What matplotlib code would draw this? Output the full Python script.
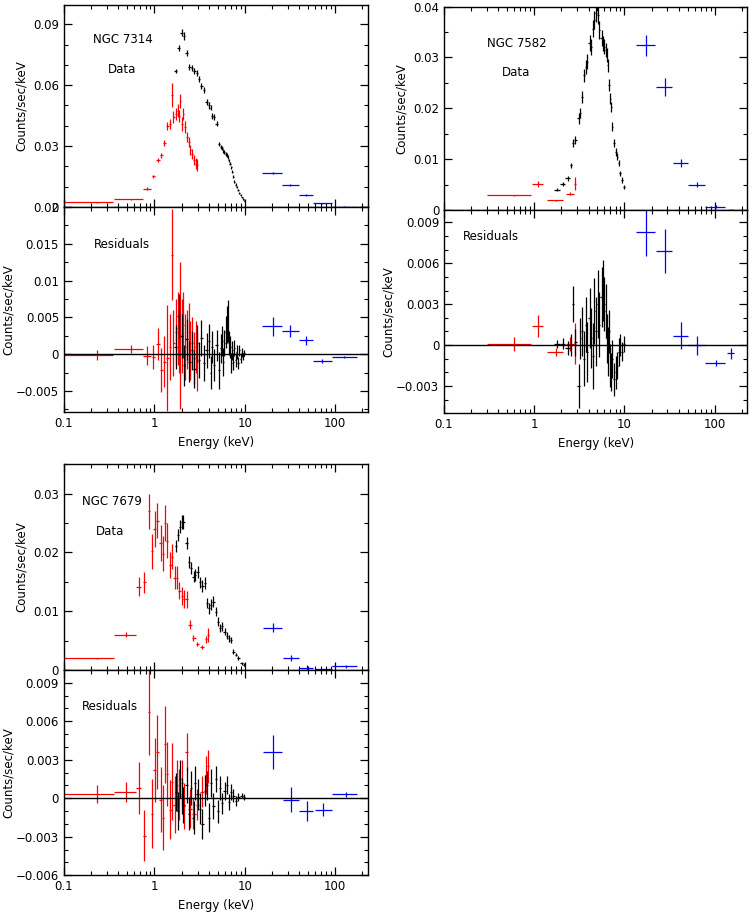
# -*- coding: utf-8 -*-

import matplotlib
matplotlib.use('Agg')
import matplotlib.pyplot as plt
from matplotlib.ticker import MultipleLocator, FuncFormatter, LogLocator, FixedLocator
import numpy as np

# ---------------- NGC 7314 ----------------
e1_pn = [1.72, 1.87, 2.01, 2.13, 2.28, 2.44, 2.59, 2.77, 2.96, 3.14,
         3.31, 3.54, 3.79, 4.02, 4.20, 4.34, 4.56, 4.89, 5.18, 5.41,
         5.60, 5.78, 5.96, 6.15, 6.30, 6.47, 6.66, 6.86, 7.07, 7.27,
         7.47, 7.67, 7.90, 8.13, 8.40, 8.70, 9.00, 9.31, 9.60, 9.85]
y1_pn = [0.0670, 0.0782, 0.0858, 0.0842, 0.0757, 0.0690, 0.0684, 0.0670, 0.0662, 0.0630,
         0.0597, 0.0576, 0.0515, 0.0500, 0.0488, 0.0450, 0.0442, 0.0410, 0.0312, 0.0295,
         0.0290, 0.0276, 0.0270, 0.0263, 0.0258, 0.0246, 0.0230, 0.0214, 0.0195, 0.0173,
         0.0150, 0.0124, 0.0110, 0.0099, 0.0085, 0.0070, 0.0058, 0.0047, 0.0038, 0.0031]
ey1_pn = [0.0012, 0.0015, 0.0018, 0.0018, 0.0015, 0.0015, 0.0015, 0.0015, 0.0015, 0.0015,
          0.0015, 0.0015, 0.0015, 0.0015, 0.0012, 0.0015, 0.0015, 0.0013, 0.0010, 0.0010,
          0.0010, 0.0010, 0.0010, 0.0010, 0.0010, 0.0010, 0.0008, 0.0008, 0.0008, 0.0008,
          0.0007, 0.0007, 0.0006, 0.0006, 0.0005, 0.0005, 0.0005, 0.0004, 0.0004, 0.0003]
r1_pn = [0.0010, 0.0052, 0.0025, -0.0015, 0.0020, -0.0010, 0.0005, -0.0020, 0.0015, -0.0008,
         0.0022, -0.0012, 0.0005, 0.0018, -0.0025, 0.0010, -0.0015, 0.0012, -0.0022, 0.0008,
         0.0018, -0.0010, 0.0015, 0.0030, 0.0040, 0.0045, 0.0015, 0.0010, -0.0012, 0.0005,
         -0.0010, 0.0008, -0.0008, 0.0003, -0.0012, 0.0005, -0.0006, 0.0002, -0.0003, 0.0001]
er1_pn = [0.0030, 0.0030, 0.0030, 0.0028, 0.0028, 0.0028, 0.0026, 0.0026, 0.0025, 0.0025,
          0.0025, 0.0024, 0.0024, 0.0023, 0.0023, 0.0022, 0.0022, 0.0021, 0.0025, 0.0020,
          0.0020, 0.0019, 0.0018, 0.0022, 0.0025, 0.0028, 0.0016, 0.0015, 0.0014, 0.0013,
          0.0012, 0.0011, 0.0010, 0.0009, 0.0008, 0.0007, 0.0006, 0.0006, 0.0005, 0.0004]

e1_soft = [0.23, 0.55, 0.83, 0.975, 1.09, 1.18, 1.28, 1.39, 1.49, 1.56,
           1.62, 1.72, 1.81, 1.88, 1.94, 2.02, 2.09, 2.20, 2.30, 2.40,
           2.50, 2.61, 2.74, 2.87, 2.99]
lo1_soft = [0.10, 0.36, 0.745, 0.93, 1.04, 1.14, 1.23, 1.34, 1.44, 1.53,
            1.59, 1.68, 1.77, 1.85, 1.91, 1.98, 2.06, 2.15, 2.25, 2.35,
            2.45, 2.56, 2.68, 2.81, 2.93]
hi1_soft = [0.35, 0.745, 0.912, 1.02, 1.14, 1.23, 1.33, 1.44, 1.53, 1.59,
            1.67, 1.77, 1.85, 1.91, 1.98, 2.06, 2.14, 2.25, 2.35, 2.45,
            2.56, 2.67, 2.80, 2.93, 3.05]
y1_soft = [0.0023, 0.0038, 0.0090, 0.0152, 0.0230, 0.0254, 0.0315, 0.0401, 0.0410, 0.0553,
           0.0442, 0.0459, 0.0475, 0.0450, 0.0524, 0.0410, 0.0459, 0.0393, 0.0344, 0.0320,
           0.0279, 0.0263, 0.0230, 0.0214, 0.0206]
ey1_soft = [0.0001, 0.0002, 0.0006, 0.0008, 0.0010, 0.0012, 0.0015, 0.0020, 0.0025, 0.0060,
            0.0030, 0.0030, 0.0030, 0.0030, 0.0035, 0.0035, 0.0030, 0.0030, 0.0025, 0.0025,
            0.0025, 0.0025, 0.0025, 0.0025, 0.0030]
r1_soft = [-0.0001, 0.0007, -0.0002, -0.0004, 0.0014, -0.0022, -0.0010, -0.0005, 0.0010, 0.0135,
           0.0015, 0.0030, 0.0035, 0.0020, 0.0025, 0.0025, 0.0040, 0.0010, 0.0020, 0.0030,
           0.0005, 0.0015, -0.0005, 0.0010, -0.0010]
er1_soft = [0.0007, 0.0006, 0.0013, 0.0016, 0.0022, 0.0030, 0.0035, 0.0072, 0.0045, 0.0062,
            0.0045, 0.0045, 0.0050, 0.0045, 0.0100, 0.0050, 0.0045, 0.0045, 0.0040, 0.0040,
            0.0040, 0.0035, 0.0035, 0.0035, 0.0040]

e1_bat = [20.4, 32.0, 48.0, 72.0, 125.0]
lo1_bat = [15.5, 25.5, 40.0, 57.0, 91.0]
hi1_bat = [25.5, 40.0, 57.0, 91.0, 172.0]
y1_bat = [0.0168, 0.0108, 0.0059, 0.0018, 0.0002]
ey1_bat = [0.0004, 0.0003, 0.0003, 0.0002, 0.0001]
r1_bat = [0.0038, 0.0032, 0.0019, -0.0009, -0.0004]
er1_bat = [0.0013, 0.0008, 0.0006, 0.0003, 0.0001]

# ---------------- NGC 7582 ----------------
e2_pn = [1.80, 2.08, 2.36, 2.57, 2.70, 2.81, 3.12, 3.25, 3.39, 3.60,
         3.73, 3.86, 4.10, 4.31, 4.50, 4.65, 4.84, 5.05, 5.27, 5.59,
         5.78, 5.98, 6.20, 6.35, 6.50, 6.80, 7.00, 7.18, 7.35, 7.70,
         8.05, 8.30, 8.60, 9.00, 9.40, 9.90]
y2_pn = [0.0040, 0.0052, 0.0062, 0.0088, 0.0131, 0.0137, 0.0180, 0.0190, 0.0223, 0.0265,
         0.0282, 0.0292, 0.0328, 0.0321, 0.0357, 0.0374, 0.0387, 0.0383, 0.0354, 0.0338,
         0.0328, 0.0321, 0.0315, 0.0305, 0.0285, 0.0246, 0.0219, 0.0203, 0.0164, 0.0131,
         0.0114, 0.0105, 0.0092, 0.0072, 0.0059, 0.0045]
ey2_pn = [0.0003, 0.0004, 0.0004, 0.0005, 0.0008, 0.0008, 0.0010, 0.0010, 0.0012, 0.0013,
          0.0014, 0.0015, 0.0016, 0.0016, 0.0017, 0.0018, 0.0018, 0.0018, 0.0017, 0.0016,
          0.0015, 0.0015, 0.0014, 0.0014, 0.0013, 0.0012, 0.0011, 0.0010, 0.0009, 0.0008,
          0.0007, 0.0007, 0.0006, 0.0005, 0.0005, 0.0004]
r2_pn = [0.0001, 0.0001, -0.0002, 0.0000, 0.0030, 0.0002, -0.0030, 0.0005, 0.0010, -0.0010,
         0.0015, -0.0005, 0.0020, 0.0005, -0.0008, 0.0025, 0.0010, 0.0030, 0.0015, 0.0035,
         0.0040, 0.0030, 0.0025, 0.0005, -0.0005, 0.0010, -0.0015, -0.0020, -0.0010, -0.0025,
         -0.0020, -0.0015, -0.0005, 0.0000, -0.0005, 0.0001]
er2_pn = [0.0003, 0.0004, 0.0005, 0.0008, 0.0013, 0.0010, 0.0016, 0.0015, 0.0018, 0.0020,
          0.0020, 0.0022, 0.0022, 0.0022, 0.0024, 0.0024, 0.0025, 0.0025, 0.0024, 0.0022,
          0.0022, 0.0020, 0.0020, 0.0018, 0.0018, 0.0016, 0.0016, 0.0014, 0.0014, 0.0012,
          0.0012, 0.0010, 0.0010, 0.0008, 0.0007, 0.0006]

e2_soft = [0.60, 1.09, 1.73, 2.49, 2.84]
lo2_soft = [0.30, 0.95, 1.40, 2.25, 2.78]
hi2_soft = [0.92, 1.25, 2.10, 2.75, 2.90]
y2_soft = [0.0029, 0.0052, 0.0019, 0.0032, 0.0052]
ey2_soft = [0.0001, 0.0006, 0.0001, 0.0003, 0.0013]
r2_soft = [0.0001, 0.0014, -0.0005, 0.0001, 0.0001]
er2_soft = [0.0005, 0.0008, 0.0003, 0.0005, 0.0015]

e2_bat = [17.3, 28.0, 42.5, 64.5, 104.0, 150.0]
lo2_bat = [13.6, 22.6, 34.6, 50.4, 79.0, 138.0]
hi2_bat = [21.7, 33.8, 50.4, 79.0, 130.0, 165.0]
y2_bat = [0.0324, 0.0242, 0.0093, 0.0050, 0.0006, 0.0000]
ey2_bat = [0.0021, 0.0017, 0.0008, 0.0005, 0.0003, 0.0001]
r2_bat = [0.0083, 0.0069, 0.0007, 0.0000, -0.0013, -0.0006]
er2_bat = [0.0018, 0.0016, 0.0010, 0.0007, 0.0002, 0.0004]

# ---------------- NGC 7679 ----------------
e3_pn = [1.74, 1.84, 1.92, 2.02, 2.09, 2.28, 2.42, 2.54, 2.72, 2.82,
         3.00, 3.20, 3.39, 3.63, 3.85, 4.02, 4.27, 4.49, 4.77, 5.02,
         5.32, 5.60, 5.99, 6.31, 6.64, 6.99, 7.47, 7.92, 8.46, 9.20, 9.78]
y3_pn = [0.0211, 0.0229, 0.0244, 0.0251, 0.0251, 0.0216, 0.0184, 0.0174, 0.0159, 0.0162,
         0.0167, 0.0149, 0.0143, 0.0148, 0.0114, 0.0105, 0.0111, 0.0116, 0.0099, 0.0082,
         0.0071, 0.0074, 0.0065, 0.0058, 0.0054, 0.0051, 0.0031, 0.0026, 0.0020, 0.0011, 0.0009]
ey3_pn = [0.0010, 0.0010, 0.0011, 0.0012, 0.0012, 0.0011, 0.0010, 0.0010, 0.0010, 0.0010,
          0.0010, 0.0010, 0.0010, 0.0010, 0.0009, 0.0009, 0.0009, 0.0009, 0.0008, 0.0008,
          0.0007, 0.0007, 0.0006, 0.0006, 0.0006, 0.0005, 0.0004, 0.0003, 0.0003, 0.0002, 0.0002]
r3_pn = [0.0005, -0.0010, 0.0015, 0.0002, -0.0005, 0.0010, -0.0012, 0.0008, -0.0015, 0.0012,
         0.0003, -0.0008, -0.0020, 0.0006, 0.0010, -0.0015, 0.0012, -0.0006, 0.0015, -0.0010,
         0.0008, -0.0004, 0.0006, 0.0010, -0.0003, 0.0005, 0.0002, -0.0002, 0.0001, 0.0002, 0.0001]
er3_pn = [0.0015, 0.0015, 0.0015, 0.0014, 0.0014, 0.0014, 0.0013, 0.0013, 0.0013, 0.0013,
          0.0012, 0.0012, 0.0012, 0.0012, 0.0011, 0.0011, 0.0011, 0.0010, 0.0010, 0.0009,
          0.0009, 0.0008, 0.0007, 0.0007, 0.0006, 0.0006, 0.0005, 0.0004, 0.0003, 0.0002, 0.0002]

e3_soft = [0.23, 0.49, 0.68, 0.775, 0.874, 0.936, 1.01, 1.08, 1.17, 1.24,
           1.32, 1.39, 1.50, 1.57, 1.68, 1.77, 1.89, 2.02, 2.13, 2.28,
           2.48, 2.70, 2.99, 3.37, 3.73, 3.95]
lo3_soft = [0.10, 0.36, 0.63, 0.74, 0.84, 0.91, 0.97, 1.04, 1.12, 1.20,
            1.28, 1.35, 1.45, 1.53, 1.62, 1.72, 1.83, 1.96, 2.07, 2.20,
            2.38, 2.58, 2.85, 3.20, 3.60, 3.85]
hi3_soft = [0.36, 0.63, 0.72, 0.81, 0.90, 0.96, 1.04, 1.12, 1.20, 1.27,
            1.36, 1.43, 1.55, 1.62, 1.73, 1.82, 1.95, 2.08, 2.20, 2.36,
            2.58, 2.85, 3.15, 3.55, 3.85, 4.05]
y3_soft = [0.0020, 0.0060, 0.0142, 0.0149, 0.0270, 0.0202, 0.0240, 0.0254, 0.0216, 0.0198,
           0.0250, 0.0220, 0.0179, 0.0193, 0.0157, 0.0157, 0.0135, 0.0126, 0.0121, 0.0120,
           0.0077, 0.0054, 0.0044, 0.0039, 0.0052, 0.0060]
ey3_soft = [0.0001, 0.0004, 0.0017, 0.0018, 0.0030, 0.0030, 0.0030, 0.0030, 0.0030, 0.0030,
            0.0030, 0.0030, 0.0022, 0.0022, 0.0020, 0.0020, 0.0015, 0.0015, 0.0015, 0.0015,
            0.0008, 0.0005, 0.0004, 0.0004, 0.0006, 0.0012]
r3_soft = [0.0003, 0.0005, 0.0008, -0.0029, 0.0067, -0.0012, 0.0022, 0.0036, -0.0001, -0.0015,
           0.0042, 0.0019, -0.0009, 0.0013, -0.0005, 0.0010, 0.0003, 0.0012, -0.0006, 0.0036,
           -0.0008, -0.0012, -0.0005, 0.0005, 0.0018, 0.0025]
er3_soft = [0.0007, 0.0008, 0.0020, 0.0020, 0.0033, 0.0027, 0.0025, 0.0029, 0.0025, 0.0025,
            0.0030, 0.0025, 0.0023, 0.0030, 0.0022, 0.0020, 0.0020, 0.0018, 0.0018, 0.0015,
            0.0015, 0.0012, 0.0012, 0.0012, 0.0015, 0.0013]

e3_bat = [20.4, 32.8, 49.0, 74.0, 131.0]
lo3_bat = [15.9, 26.6, 40.0, 59.7, 91.0]
hi3_bat = [25.6, 40.0, 57.0, 91.0, 174.0]
y3_bat = [0.0072, 0.0021, 0.0004, 0.0001, 0.0006]
ey3_bat = [0.0008, 0.0005, 0.0004, 0.0001, 0.0002]
r3_bat = [0.0036, -0.0001, -0.0010, -0.0009, 0.0003]
er3_bat = [0.0013, 0.0010, 0.0008, 0.0005, 0.0002]

plt.rcParams['font.family'] = ['DejaVu Sans']
plt.rcParams['font.size'] = 8.5
plt.rcParams['axes.linewidth'] = 1.0

fig = plt.figure(figsize=(7.5, 9.13), dpi=100)


def fmt(v, pos):
    if abs(v) < 1e-12:
        return '0'
    return ('%g' % v).replace('-', '\u2212')


def style(ax, major, minor, ylim, bottom_labels):
    ax.set_xscale('log')
    ax.set_xlim(0.1, 230)
    ax.set_ylim(*ylim)
    ax.xaxis.set_major_locator(FixedLocator([0.1, 1, 10, 100]))
    ax.xaxis.set_minor_locator(LogLocator(base=10, subs=np.arange(2, 10), numticks=20))
    ax.xaxis.set_major_formatter(FuncFormatter(fmt))
    ax.xaxis.set_minor_formatter(FuncFormatter(lambda v, p: ''))
    ax.yaxis.set_major_locator(MultipleLocator(major))
    ax.yaxis.set_minor_locator(MultipleLocator(minor))
    ax.yaxis.set_major_formatter(FuncFormatter(fmt))
    ax.tick_params(which='both', direction='in', top=True, right=True, labelsize=8.5)
    ax.tick_params(which='major', length=6, width=0.9)
    ax.tick_params(which='minor', length=3, width=0.8)
    ax.tick_params(labelbottom=bottom_labels)
    # residual panels have wider tick labels, keep their label inside the figure
    ax.set_ylabel('Counts/sec/keV', fontsize=8.5, labelpad=4 if not bottom_labels else 1)


def pn_err(e):
    e = np.array(e)
    mid = np.sqrt(e[:-1] * e[1:])
    left = np.concatenate([[e[0] ** 2 / mid[0]], mid])
    right = np.concatenate([mid, [e[-1] ** 2 / mid[-1]]])
    return [e - left, right - e]


def draw(ax, e_pn, v_pn, ev_pn, e_s, lo_s, hi_s, v_s, ev_s, e_b, lo_b, hi_b, v_b, ev_b):
    kw = dict(fmt='none', elinewidth=0.9, capsize=0)
    ax.errorbar(e_s, v_s, xerr=[np.array(e_s) - np.array(lo_s), np.array(hi_s) - np.array(e_s)],
                yerr=ev_s, ecolor='#ff0000', **kw)
    ax.errorbar(e_pn, v_pn, xerr=pn_err(e_pn), yerr=ev_pn, ecolor='black', **kw)
    ax.errorbar(e_b, v_b, xerr=[np.array(e_b) - np.array(lo_b), np.array(hi_b) - np.array(e_b)],
                yerr=ev_b, ecolor='#0000ff', **kw)


# NGC 7314
ax = fig.add_axes([0.0853, 0.7733, 0.4053, 0.2212])
draw(ax, e1_pn, y1_pn, ey1_pn, e1_soft, lo1_soft, hi1_soft, y1_soft, ey1_soft,
     e1_bat, lo1_bat, hi1_bat, y1_bat, ey1_bat)
style(ax, 0.03, 0.01, (0, 0.0995), False)
ax.text(0.095, 0.827, 'NGC 7314', transform=ax.transAxes, va='center')
ax.text(0.145, 0.683, 'Data', transform=ax.transAxes, va='center')

ax = fig.add_axes([0.0853, 0.5484, 0.4053, 0.2249])
draw(ax, e1_pn, r1_pn, er1_pn, e1_soft, lo1_soft, hi1_soft, r1_soft, er1_soft,
     e1_bat, lo1_bat, hi1_bat, r1_bat, er1_bat)
ax.axhline(0, color='black', lw=1.0)
style(ax, 0.005, 0.0025, (-0.0079, 0.02), True)
ax.set_xlabel('Energy (keV)', fontsize=8.5)
ax.text(0.099, 0.815, 'Residuals', transform=ax.transAxes, va='center')

# NGC 7582
ax = fig.add_axes([0.592, 0.770, 0.4044, 0.2227])
draw(ax, e2_pn, y2_pn, ey2_pn, e2_soft, lo2_soft, hi2_soft, y2_soft, ey2_soft,
     e2_bat, lo2_bat, hi2_bat, y2_bat, ey2_bat)
style(ax, 0.01, 0.005, (0, 0.04), False)
ax.text(0.142, 0.821, 'NGC 7582', transform=ax.transAxes, va='center')
ax.text(0.191, 0.678, 'Data', transform=ax.transAxes, va='center')

ax = fig.add_axes([0.592, 0.5473, 0.4044, 0.2227])
draw(ax, e2_pn, r2_pn, er2_pn, e2_soft, lo2_soft, hi2_soft, r2_soft, er2_soft,
     e2_bat, lo2_bat, hi2_bat, r2_bat, er2_bat)
ax.axhline(0, color='black', lw=1.0)
style(ax, 0.003, 0.001, (-0.005, 0.0099), True)
ax.set_xlabel('Energy (keV)', fontsize=8.5)
ax.text(0.063, 0.872, 'Residuals', transform=ax.transAxes, va='center')

# NGC 7679
ax = fig.add_axes([0.0853, 0.2662, 0.4053, 0.2253])
draw(ax, e3_pn, y3_pn, ey3_pn, e3_soft, lo3_soft, hi3_soft, y3_soft, ey3_soft,
     e3_bat, lo3_bat, hi3_bat, y3_bat, ey3_bat)
style(ax, 0.01, 0.005, (0, 0.035), False)
ax.text(0.059, 0.818, 'NGC 7679', transform=ax.transAxes, va='center')
ax.text(0.105, 0.672, 'Data', transform=ax.transAxes, va='center')

ax = fig.add_axes([0.0853, 0.0413, 0.4053, 0.2249])
draw(ax, e3_pn, r3_pn, er3_pn, e3_soft, lo3_soft, hi3_soft, r3_soft, er3_soft,
     e3_bat, lo3_bat, hi3_bat, r3_bat, er3_bat)
ax.axhline(0, color='black', lw=1.0)
style(ax, 0.003, 0.001, (-0.006, 0.010), True)
ax.set_xlabel('Energy (keV)', fontsize=8.5)
ax.text(0.059, 0.82, 'Residuals', transform=ax.transAxes, va='center')

plt.savefig('out.png', dpi=100)
plt.close()
